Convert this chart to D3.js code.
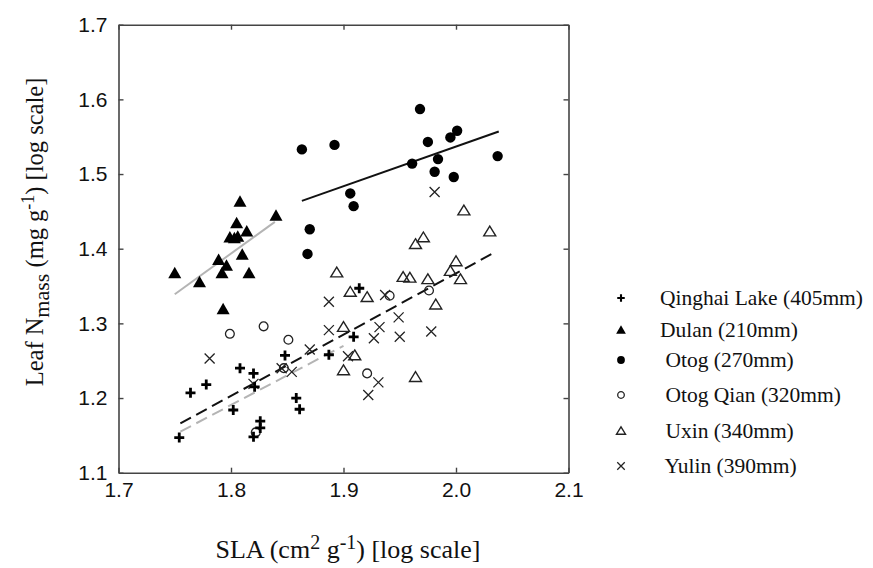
<!DOCTYPE html>
<html>
<head>
<meta charset="utf-8">
<script src="https://cdn.jsdelivr.net/npm/d3@7"></script>
<style>
  body { margin: 0; background: #fff; }
  svg { display: block; }
  .tick text { font-family: "Liberation Sans", Arial, sans-serif; font-size: 21px; fill: #111; }
  .ttl { font-family: "Liberation Serif", "Times New Roman", serif; fill: #111; }
</style>
</head>
<body>
<div id="chart"></div>
<script>
// values: [SLA, Nmass], both log10
const qinghai = [[1.754,1.147],[1.764,1.207],[1.778,1.218],[1.802,1.184],[1.808,1.240],[1.820,1.233],
  [1.821,1.215],[1.826,1.169],[1.826,1.160],[1.820,1.148],[1.848,1.257],[1.858,1.200],[1.861,1.185],
  [1.887,1.258],[1.914,1.347],[1.909,1.282]];
const dulan = [[1.750,1.367],[1.772,1.355],[1.789,1.385],[1.792,1.367],[1.796,1.377],[1.793,1.319],
  [1.816,1.367],[1.810,1.392],[1.799,1.415],[1.806,1.416],[1.814,1.423],[1.805,1.434],[1.808,1.463],
  [1.840,1.444],[1.803,1.414]];
const otog = [[1.863,1.533],[1.892,1.539],[1.870,1.426],[1.868,1.393],[1.968,1.587],[1.975,1.543],
  [1.961,1.514],[1.984,1.520],[1.981,1.503],[1.995,1.549],[2.001,1.558],[1.998,1.496],[2.037,1.524],
  [1.906,1.474],[1.909,1.457]];
const otogQian = [[1.799,1.286],[1.829,1.296],[1.851,1.278],[1.847,1.240],[1.941,1.337],[1.976,1.344],
  [1.921,1.233],[1.822,1.154]];
const uxin = [[2.007,1.451],[2.030,1.423],[1.971,1.415],[1.964,1.406],[2.000,1.383],[1.995,1.370],
  [1.894,1.368],[1.953,1.362],[1.959,1.361],[1.975,1.359],[2.004,1.359],[1.906,1.342],[1.921,1.335],
  [1.982,1.325],[1.900,1.295],[1.910,1.257],[1.900,1.237],[1.964,1.228]];
const yulin = [[1.981,1.476],[1.781,1.253],[1.887,1.329],[1.887,1.291],[1.870,1.265],[1.854,1.235],
  [1.845,1.240],[1.820,1.219],[1.937,1.338],[1.949,1.308],[1.932,1.295],[1.927,1.280],[1.950,1.282],
  [1.978,1.289],[1.904,1.256],[1.931,1.221],[1.922,1.204]];

// fitted lines, end points
const lineDulan = [[1.750,1.339],[1.839,1.436]];
const lineOtog = [[1.863,1.464],[2.038,1.557]];
const lineBlackDash = [[1.755,1.166],[2.033,1.394]];
const lineGreyDash = [[1.755,1.155],[1.900,1.270]];

const xTicks = [1.7, 1.8, 1.9, 2.0, 2.1];
const yTicks = [1.1, 1.2, 1.3, 1.4, 1.5, 1.6, 1.7];
const legendLabels = ["Qinghai Lake (405mm)", "Dulan (210mm)", " Otog (270mm)",
  " Otog Qian (320mm)", " Uxin (340mm)", " Yulin (390mm)"];

const W = 873, H = 568;
const m = { left: 118.5, right: 568.5, top: 24.7, bottom: 472.7 };

const svg = d3.select('#chart').append('svg').attr('width', W).attr('height', H);

const x = d3.scaleLinear().domain([1.7, 2.1]).range([m.left, m.right]);
const y = d3.scaleLinear().domain([1.1, 1.7]).range([m.bottom, m.top]);

const axisColor = '#444';
function styleAxis(g) {
  g.select('.domain').attr('stroke', axisColor).attr('stroke-width', 1.6);
  g.selectAll('.tick line').attr('stroke', axisColor).attr('stroke-width', 1.4);
}

svg.append('g').attr('transform', `translate(0,${m.bottom})`)
  .call(d3.axisBottom(x).tickValues(xTicks).tickSize(-5).tickSizeOuter(0).tickPadding(9).tickFormat(d3.format('.1f')))
  .call(styleAxis);
svg.append('g').attr('transform', `translate(0,${m.top})`)
  .call(d3.axisTop(x).tickValues(xTicks).tickSize(-5).tickSizeOuter(0).tickFormat(''))
  .call(styleAxis);
svg.append('g').attr('transform', `translate(${m.left},0)`)
  .call(d3.axisLeft(y).tickValues(yTicks).tickSize(-5).tickSizeOuter(0).tickPadding(11).tickFormat(d3.format('.1f')))
  .call(styleAxis);
svg.append('g').attr('transform', `translate(${m.right},0)`)
  .call(d3.axisRight(y).tickValues(yTicks).tickSize(-5).tickSizeOuter(0).tickFormat(''))
  .call(styleAxis);

// fitted lines
const line = d3.line().x(d => x(d[0])).y(d => y(d[1]));
svg.append('path').attr('d', line(lineGreyDash)).attr('fill', 'none')
  .attr('stroke', '#b4b4b4').attr('stroke-width', 2).attr('stroke-dasharray', '12,6');
svg.append('path').attr('d', line(lineBlackDash)).attr('fill', 'none')
  .attr('stroke', '#111').attr('stroke-width', 2).attr('stroke-dasharray', '12,6');
svg.append('path').attr('d', line(lineDulan)).attr('fill', 'none')
  .attr('stroke', '#b4b4b4').attr('stroke-width', 2);
svg.append('path').attr('d', line(lineOtog)).attr('fill', 'none')
  .attr('stroke', '#111').attr('stroke-width', 2);

// marker shapes, s = scale factor
function marker(g, type, s) {
  if (type === 'plus') {
    g.append('path').attr('d', `M${-5*s},0H${5*s}M0,${-5*s}V${5*s}`)
      .attr('stroke', '#000').attr('stroke-width', 2.8 * s).attr('fill', 'none');
  } else if (type === 'tri') {
    g.append('path').attr('d', `M0,${-6.5*s}L${6.5*s},${5*s}L${-6.5*s},${5*s}Z`).attr('fill', '#000');
  } else if (type === 'dot') {
    g.append('circle').attr('r', 5.2 * s).attr('fill', '#000');
  } else if (type === 'ring') {
    g.append('circle').attr('r', 4.4 * s).attr('fill', 'none').attr('stroke', '#222').attr('stroke-width', 1.3);
  } else if (type === 'otri') {
    g.append('path').attr('d', `M0,${-5.5*s}L${6*s},${4.3*s}L${-6*s},${4.3*s}Z`)
      .attr('fill', 'none').attr('stroke', '#222').attr('stroke-width', 1.4);
  } else if (type === 'times') {
    g.append('path').attr('d', `M${-5*s},${-5*s}L${5*s},${5*s}M${-5*s},${5*s}L${5*s},${-5*s}`)
      .attr('stroke', '#222').attr('stroke-width', 1.3).attr('fill', 'none');
  }
}

const groups = [
  { data: qinghai, type: 'plus' },
  { data: dulan, type: 'tri' },
  { data: otog, type: 'dot' },
  { data: otogQian, type: 'ring' },
  { data: uxin, type: 'otri' },
  { data: yulin, type: 'times' },
];

const drawOrder = [5, 4, 3, 0, 1, 2];
drawOrder.forEach(i => {
  const grp = groups[i];
  svg.append('g').selectAll('g').data(grp.data).join('g')
    .attr('transform', d => `translate(${x(d[0])},${y(d[1])})`)
    .each(function () { marker(d3.select(this), grp.type, 1); });
});

// legend
const legendY = [298, 330, 360, 395, 431, 466];
const leg = svg.append('g');
groups.forEach((grp, i) => {
  const row = leg.append('g').attr('transform', `translate(621,${legendY[i]})`);
  marker(row, grp.type, 0.75);
  row.append('text').attr('class', 'ttl').attr('x', 39).attr('y', 7)
    .attr('font-size', 21.5).attr('xml:space', 'preserve').style('white-space', 'pre')
    .text(legendLabels[i]);
});

// axis titles
const xt = svg.append('text').attr('class', 'ttl').attr('font-size', 26)
  .attr('x', 348).attr('y', 558).attr('text-anchor', 'middle');
xt.append('tspan').text('SLA (cm');
xt.append('tspan').attr('dy', -9).attr('font-size', 20).text('2');
xt.append('tspan').attr('dy', 9).text(' g');
xt.append('tspan').attr('dy', -9).attr('font-size', 20).text('-1');
xt.append('tspan').attr('dy', 9).text(') [log scale]');

const yt = svg.append('text').attr('class', 'ttl').attr('font-size', 24.5)
  .attr('text-anchor', 'middle')
  .attr('transform', 'translate(43,232) rotate(-90)');
yt.append('tspan').text('Leaf N');
yt.append('tspan').attr('dy', 6).attr('font-size', 22).text('mass');
yt.append('tspan').attr('dy', -6).text(' (mg g');
yt.append('tspan').attr('dy', -9).attr('font-size', 18).text('-1');
yt.append('tspan').attr('dy', 9).text(') [log scale]');
</script>
</body>
</html>
